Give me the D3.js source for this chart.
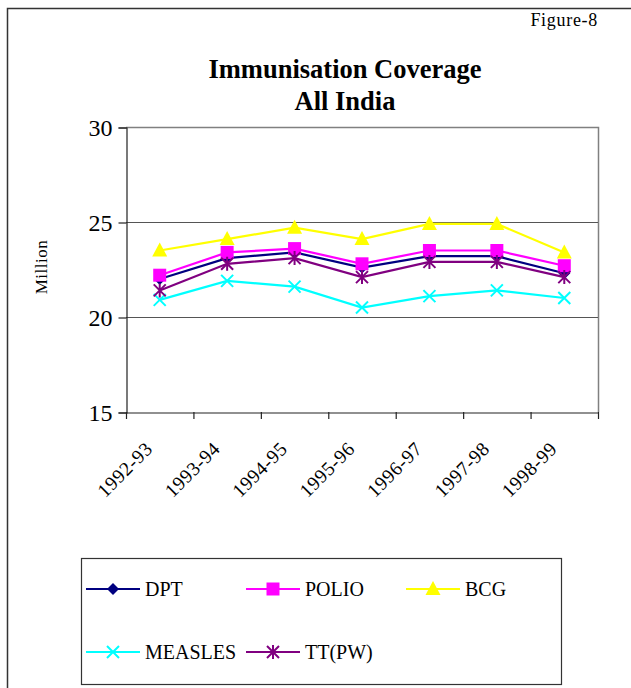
<!DOCTYPE html>
<html>
<head>
<meta charset="utf-8">
<script src="https://cdn.jsdelivr.net/npm/d3@7"></script>
<style>
  body { margin: 0; background: #fff; }
  text { font-family: "Liberation Serif", "Times New Roman", serif; }
</style>
</head>
<body>
<div id="root"></div>
<script>
// years on the x axis
var years = ['1992-93', '1993-94', '1994-95', '1995-96', '1996-97', '1997-98', '1998-99'];
var yTicks = [15, 20, 25, 30];

// coverage in million
var dpt     = [22.0, 23.1, 23.4, 22.6, 23.2, 23.2, 22.3];
var polio   = [22.2, 23.4, 23.6, 22.8, 23.5, 23.5, 22.7];
var bcg     = [23.5, 24.1, 24.7, 24.1, 24.9, 24.9, 23.4];
var measles = [20.9, 21.9, 21.6, 20.5, 21.1, 21.4, 21.0];
var ttpw    = [21.4, 22.8, 23.1, 22.1, 22.9, 22.9, 22.1];

var series = [
  { name: 'DPT', values: dpt, color: '#000080', marker: 'diamond' },
  { name: 'POLIO', values: polio, color: '#ff00ff', marker: 'square' },
  { name: 'BCG', values: bcg, color: '#ffff00', marker: 'triangle' },
  { name: 'MEASLES', values: measles, color: '#00ffff', marker: 'cross' },
  { name: 'TT(PW)', values: ttpw, color: '#800080', marker: 'star' }
];

var W = 631, H = 688;
var plotL = 126, plotR = 598, plotT = 127, plotB = 412;

var svg = d3.select('#root')
  .append('svg')
    .attr('width', W)
    .attr('height', H);

// outer frame
svg.append('rect')
  .attr('x', 7.5).attr('y', 8.5)
  .attr('width', W + 10).attr('height', H + 10)
  .attr('fill', 'none')
  .attr('stroke', '#333')
  .attr('stroke-width', 1.5);

svg.append('text')
  .attr('x', 598).attr('y', 26)
  .attr('text-anchor', 'end')
  .style('font-size', '18px')
  .style('letter-spacing', '0.7px')
  .text('Figure-8');

svg.append('text')
  .attr('x', 345).attr('y', 78)
  .attr('text-anchor', 'middle')
  .style('font-size', '26.5px')
  .style('font-weight', 'bold')
  .text('Immunisation Coverage');

svg.append('text')
  .attr('x', 345).attr('y', 110)
  .attr('text-anchor', 'middle')
  .style('font-size', '26.5px')
  .style('font-weight', 'bold')
  .text('All India');

var x = d3.scaleBand()
  .domain(years)
  .range([plotL, plotR]);

var y = d3.scaleLinear()
  .domain([15, 30])
  .range([plotB, plotT]);

// plot area border (top/right grey)
svg.append('path')
  .attr('d', 'M' + plotL + ',' + (plotT + 0.5) + 'H' + (plotR + 0.5) + 'V' + plotB)
  .attr('fill', 'none')
  .attr('stroke', '#808080')
  .attr('stroke-width', 1.5);

// gridlines
svg.append('g')
  .selectAll('line')
  .data(yTicks.filter(d => d > 15 && d < 30))
  .enter()
  .append('line')
    .attr('x1', plotL).attr('x2', plotR)
    .attr('y1', d => y(d) + 0.5).attr('y2', d => y(d) + 0.5)
    .attr('stroke', '#555')
    .attr('stroke-width', 1.2);

// y axis
var yAxis = svg.append('g')
  .attr('transform', 'translate(' + (plotL + 0.5) + ',0.5)')
  .call(d3.axisLeft(y).tickValues(yTicks).tickSize(8).tickPadding(6));
yAxis.selectAll('text')
  .style('font-size', '24px')
  .style('font-family', '"Liberation Serif", serif')
  .attr('fill', '#000');
yAxis.selectAll('line, path').attr('stroke', '#222').attr('stroke-width', 1.2);

// x axis
var xAxis = svg.append('g')
  .attr('transform', 'translate(0.5,' + (plotB + 0.5) + ')')
  .call(d3.axisBottom(x).tickSize(0).tickFormat(''));
xAxis.selectAll('path').attr('stroke', '#222').attr('stroke-width', 1.2);

// ticks between categories
svg.append('g')
  .selectAll('line')
  .data(years.concat(['end']))
  .enter()
  .append('line')
    .attr('x1', (d, i) => plotL + i * x.step() + 0.5)
    .attr('x2', (d, i) => plotL + i * x.step() + 0.5)
    .attr('y1', plotB).attr('y2', plotB + 7)
    .attr('stroke', '#222')
    .attr('stroke-width', 1.2);

svg.append('g')
  .selectAll('text')
  .data(years)
  .enter()
  .append('text')
    .attr('transform', d => 'translate(' + (x(d) + x.bandwidth() / 2 - 6) + ',' + (plotB + 38) + ') rotate(-45)')
    .attr('text-anchor', 'end')
    .style('font-size', '19.5px')
    .style('letter-spacing', '0.5px')
    .text(d => d);

svg.append('text')
  .attr('transform', 'translate(47,' + 267 + ') rotate(-90)')
  .attr('text-anchor', 'middle')
  .style('font-size', '17px')
  .style('letter-spacing', '0.5px')
  .text('Million');

var markerPath = (type, cx, cy) => {
  if (type === 'diamond') return 'M' + cx + ',' + (cy - 6) + 'L' + (cx + 6) + ',' + cy + 'L' + cx + ',' + (cy + 6) + 'L' + (cx - 6) + ',' + cy + 'Z';
  if (type === 'square') return 'M' + (cx - 6.5) + ',' + (cy - 6.5) + 'h13v13h-13Z';
  if (type === 'triangle') return 'M' + cx + ',' + (cy - 8) + 'L' + (cx + 7.5) + ',' + (cy + 6) + 'L' + (cx - 7.5) + ',' + (cy + 6) + 'Z';
  if (type === 'cross') return 'M' + (cx - 6) + ',' + (cy - 6) + 'L' + (cx + 6) + ',' + (cy + 6) + 'M' + (cx + 6) + ',' + (cy - 6) + 'L' + (cx - 6) + ',' + (cy + 6);
  return 'M' + (cx - 6) + ',' + (cy - 6) + 'L' + (cx + 6) + ',' + (cy + 6) + 'M' + (cx + 6) + ',' + (cy - 6) + 'L' + (cx - 6) + ',' + (cy + 6) + 'M' + cx + ',' + (cy - 7) + 'V' + (cy + 7);
};

var drawMarker = (g, s, cx, cy) => {
  var filled = s.marker === 'diamond' || s.marker === 'square' || s.marker === 'triangle';
  g.append('path')
    .attr('d', markerPath(s.marker, cx, cy))
    .attr('fill', filled ? s.color : 'none')
    .attr('stroke', s.color)
    .attr('stroke-width', filled ? 0 : 2);
};

var line = d3.line()
  .x((d, i) => x(years[i]) + x.bandwidth() / 2)
  .y(d => y(d));

// draw order: later series on top, as in the original
series.forEach(s => {
  var g = svg.append('g');
  g.append('path')
    .attr('d', line(s.values))
    .attr('fill', 'none')
    .attr('stroke', s.color)
    .attr('stroke-width', 2.2);
  s.values.forEach((v, i) => drawMarker(g, s, x(years[i]) + x.bandwidth() / 2, y(v)));
});

// legend
var lg = svg.append('g');
lg.append('rect')
  .attr('x', 81.5).attr('y', 558.5)
  .attr('width', 480).attr('height', 126)
  .attr('fill', 'none')
  .attr('stroke', '#333')
  .attr('stroke-width', 1.2);

series.forEach((s, i) => {
  var col = i % 3, row = Math.floor(i / 3);
  var lx = 86 + col * 160, ly = 589 + row * 63;
  var g = lg.append('g');
  g.append('line')
    .attr('x1', lx).attr('x2', lx + 54)
    .attr('y1', ly).attr('y2', ly)
    .attr('stroke', s.color)
    .attr('stroke-width', 2);
  drawMarker(g, s, lx + 27, ly);
  g.append('text')
    .attr('x', lx + 59).attr('y', ly + 7)
    .style('font-size', '20px')
    .text(s.name);
});
</script>
</body>
</html>
